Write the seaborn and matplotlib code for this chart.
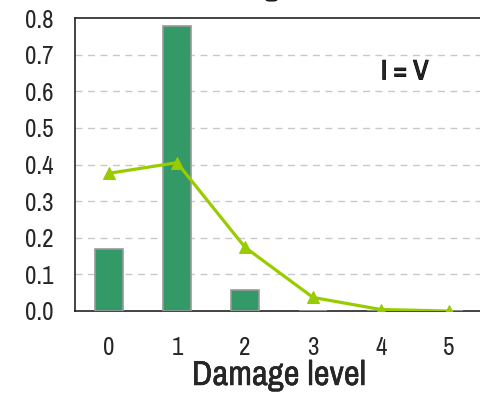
import matplotlib
matplotlib.use("Agg")
import matplotlib.pyplot as plt
import matplotlib.patheffects as pe
import seaborn as sns
import numpy as np
import pandas as pd
from matplotlib import font_manager

levels = [0, 1, 2, 3, 4, 5]
tick_labels = ["0", "1", "2", "3", "4", "5"]
bar_values = [0.168, 0.778, 0.056, 0.0, 0.0, 0.0]
line_values = [0.376, 0.405, 0.174, 0.037, 0.004, 0.0]
y_ticks = [0.0, 0.1, 0.2, 0.3, 0.4, 0.5, 0.6, 0.7, 0.8]

sns.set_style("white")
names = {f.name for f in font_manager.fontManager.ttflist}
candidates = ["Liberation Sans Narrow", "Arial Narrow", "Archivo Narrow", "PT Sans Narrow",
              "Roboto Condensed", "Open Sans Condensed", "Pragati Narrow",
              "Sofia Sans Condensed", "Liberation Sans"]
fam = next(c for c in candidates if c in names)
plt.rcParams["font.family"] = [fam, "DejaVu Sans"]

fig = plt.figure(figsize=(4.8, 3.95), dpi=100)
ax = fig.add_axes([75/480, 84/395, 408/480, 293/395])

df = pd.DataFrame({"level": levels, "bar": bar_values, "line": line_values})
sns.barplot(data=df, x="level", y="bar", color="#339966", saturation=1,
            width=0.41, edgecolor="#9a9a9a", linewidth=1.2, ax=ax, zorder=3)
sns.lineplot(x=np.arange(len(levels)), y=line_values, color="#99cc00",
             linewidth=2.3, marker="^", markersize=8, markeredgecolor="#99cc00",
             ax=ax, zorder=4)

ax.set_xlim(-0.5, 5.5)
ax.set_ylim(0, 0.8)
ax.set_yticks(y_ticks)
ax.set_yticklabels([f"{v:.1f}" for v in y_ticks], fontsize=18)
ax.set_xticks(np.arange(-0.5, 6, 1))
ax.set_xticklabels([""] * 7)
ax.set_xticks(np.arange(len(levels)), minor=True)
ax.set_xticklabels(tick_labels, minor=True, fontsize=18)
ax.tick_params(axis="x", which="major", direction="out", length=8, width=1.2, color="#555555")
ax.tick_params(axis="x", which="minor", length=0, pad=18)
ax.tick_params(axis="y", direction="inout", length=11, width=1.0, color="#333333", pad=10)

for v in y_ticks[1:-1]:
    ax.axhline(v, color="#c8c8c8", linestyle=(0, (5, 4)), linewidth=1.0, zorder=1)

for s in ["left", "bottom", "top"]:
    ax.spines[s].set_visible(True)
    ax.spines[s].set_color("#222222")
    ax.spines[s].set_linewidth(1.2)
ax.spines["right"].set_visible(False)

ax.set_xlabel("Damage level", fontsize=25, labelpad=0,
              path_effects=[pe.withStroke(linewidth=0.3, foreground="black")])
ax.set_ylabel("")
ax.text(4.35, 0.653, "I = V", fontsize=20, ha="center", va="center",
        path_effects=[pe.withStroke(linewidth=0.8, foreground="black")])
fig.text(0.55, 1.012, "Histogram", fontsize=22, ha="center", va="baseline",
         path_effects=[pe.withStroke(linewidth=1.0, foreground="black")])

fig.savefig("out.png", dpi=100)
